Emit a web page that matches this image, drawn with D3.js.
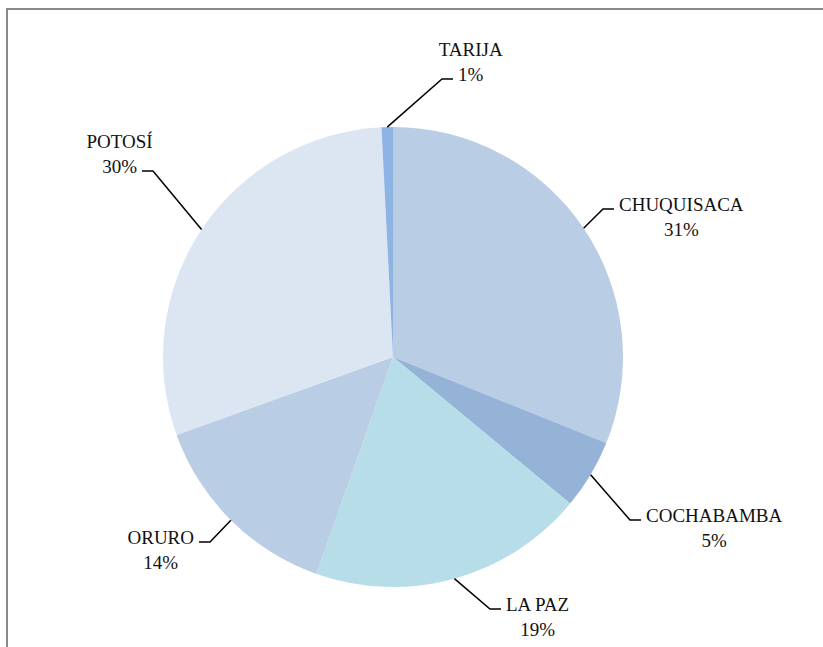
<!DOCTYPE html>
<html>
<head>
<meta charset="utf-8">
<script src="https://cdn.jsdelivr.net/npm/d3@7/dist/d3.min.js"></script>
<style>
  html, body { margin: 0; padding: 0; background: #fff; }
  svg { display: block; }
</style>
</head>
<body>
<svg id="chart" width="823" height="647"></svg>
<script>
// Departments, clockwise from 12 o'clock
const departments = ["CHUQUISACA", "COCHABAMBA", "LA PAZ", "ORURO", "POTOSÍ", "TARIJA"];
// Share of the total, in percent
const shares = [31.1, 4.9, 19.4, 14.1, 29.7, 0.8];
const sliceColors = ["#b9cde5", "#95b3d7", "#b7dee8", "#b9cde5", "#dce6f2", "#8eb4e3"];

// Leader-line elbows (relative to the pie centre), label side, and which label line the leader meets
const labelLayout = [
  { elbow: [210, -148], side: 1, attach: "name" },   // CHUQUISACA
  { elbow: [237, 163], side: 1, attach: "name" },    // COCHABAMBA
  { elbow: [97, 252], side: 1, attach: "name" },     // LA PAZ
  { elbow: [-183, 185], side: -1, attach: "name" },  // ORURO
  { elbow: [-240, -186], side: -1, attach: "pct" },  // POTOSÍ
  { elbow: [49, -278], side: 1, attach: "pct" }      // TARIJA
];

const fontFamily = "'Liberation Serif', 'Times New Roman', Tinos, 'DejaVu Serif', serif";

const svg = d3.select("#chart");
const cx = 393, cy = 357, radius = 230;

// Chart-area frame (extends beyond the right and bottom edges)
svg.append("rect")
  .attr("x", 7).attr("y", 9)
  .attr("width", 1000).attr("height", 1000)
  .attr("fill", "none")
  .attr("stroke", "#8a8a8a")
  .attr("stroke-width", 2);

const data = departments.map((name, i) => ({ name, value: shares[i], color: sliceColors[i], layout: labelLayout[i] }));

const pie = d3.pie().sort(null).value(d => d.value);
const arcs = pie(data);
const arc = d3.arc().innerRadius(0).outerRadius(radius);
const rim = d3.arc().innerRadius(radius).outerRadius(radius);

const g = svg.append("g").attr("transform", `translate(${cx},${cy})`);

g.selectAll("path.slice")
  .data(arcs)
  .join("path")
  .attr("class", "slice")
  .attr("d", arc)
  .attr("fill", d => d.data.color);

// Leader lines: from the rim at the slice's mid-angle to the elbow, then a short horizontal tick
const tick = 11;
g.selectAll("polyline.leader")
  .data(arcs)
  .join("polyline")
  .attr("class", "leader")
  .attr("fill", "none")
  .attr("stroke", "#000")
  .attr("stroke-width", 1.5)
  .attr("points", d => {
    const s = rim.centroid(d);
    const e = d.data.layout.elbow;
    const side = d.data.layout.side;
    return [s, e, [e[0] + side * tick, e[1]]].map(p => p.join(",")).join(" ");
  });

// Two-line labels: name and rounded percentage
const lineGap = 25, textGap = 5;
const labels = g.selectAll("g.label")
  .data(arcs)
  .join("g")
  .attr("class", "label")
  .attr("font-family", fontFamily)
  .attr("font-size", 19)
  .attr("fill", "#111");

labels.each(function(d) {
  const sel = d3.select(this);
  const { elbow, side, attach } = d.data.layout;
  const tickEnd = elbow[0] + side * tick;
  const nameText = sel.append("text").attr("text-anchor", "middle").text(d.data.name);
  const pctText = sel.append("text").attr("text-anchor", "middle").text(Math.round(d.data.value) + "%");
  const attachedWidth = (attach === "name" ? nameText : pctText).node().getComputedTextLength();
  const centerX = tickEnd + side * (textGap + attachedWidth / 2);
  const attachedBaseline = elbow[1] + 2;
  const nameY = attach === "name" ? attachedBaseline : attachedBaseline - lineGap;
  nameText.attr("x", centerX).attr("y", nameY);
  pctText.attr("x", centerX).attr("y", nameY + lineGap);
});
</script>
</body>
</html>
